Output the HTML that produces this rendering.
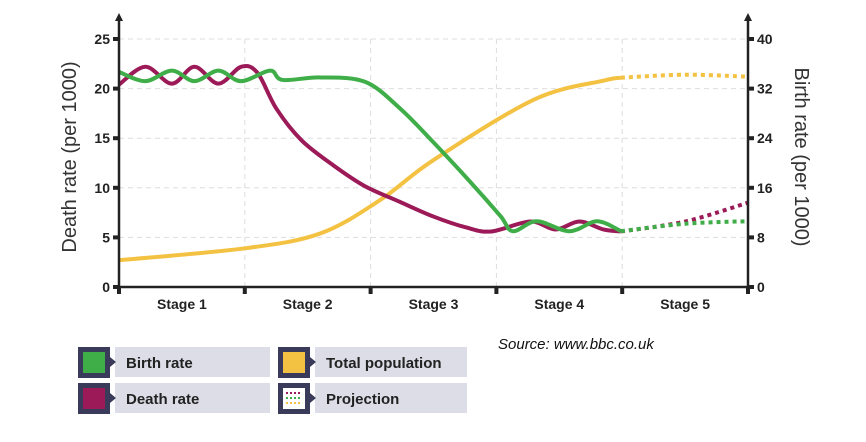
<!DOCTYPE html>
<html><head><meta charset="utf-8"><style>
body{margin:0;background:#fff;width:866px;height:442px;overflow:hidden;font-family:"Liberation Sans",Arial,sans-serif}
svg{display:block}
</style></head><body>
<svg id="chart" width="866" height="442" xmlns="http://www.w3.org/2000/svg">
<g id="grid"></g>
<g id="series"></g>
<g id="axes"></g>
<text transform="translate(76,157) rotate(-90)" text-anchor="middle" font-size="20" fill="#333">Death rate (per 1000)</text>
<text transform="translate(795,157) rotate(90)" text-anchor="middle" font-size="20" fill="#333">Birth rate (per 1000)</text>
<text x="498" y="349" font-size="15" font-style="italic" fill="#111">Source: www.bbc.co.uk</text>
<g>
 <g>
  <rect x="115" y="347" width="155" height="30" fill="#dcdde6"/>
  <rect x="78" y="347" width="32" height="31" fill="#3a3a5a"/>
  <rect x="83" y="352" width="22" height="21" fill="#3fae49"/>
  <polygon points="110,357 116,362 110,367" fill="#3a3a5a"/>
  <text x="126" y="368" font-size="15" font-weight="bold" fill="#222">Birth rate</text>
 </g>
 <g>
  <rect x="115" y="383" width="155" height="30" fill="#dcdde6"/>
  <rect x="78" y="383" width="32" height="31" fill="#3a3a5a"/>
  <rect x="83" y="388" width="22" height="21" fill="#9b1a57"/>
  <polygon points="110,393 116,398 110,403" fill="#3a3a5a"/>
  <text x="126" y="404" font-size="15" font-weight="bold" fill="#222">Death rate</text>
 </g>
 <g>
  <rect x="315" y="347" width="152" height="30" fill="#dcdde6"/>
  <rect x="278" y="347" width="32" height="31" fill="#3a3a5a"/>
  <rect x="283" y="352" width="22" height="21" fill="#f4c242"/>
  <polygon points="310,357 316,362 310,367" fill="#3a3a5a"/>
  <text x="326" y="368" font-size="15" font-weight="bold" fill="#222">Total population</text>
 </g>
 <g>
  <rect x="315" y="383" width="152" height="30" fill="#dcdde6"/>
  <rect x="278" y="383" width="32" height="31" fill="#3a3a5a"/>
  <rect x="283" y="388" width="22" height="21" fill="#fff"/>
  <line x1="286" y1="393" x2="302" y2="393" stroke="#9b1a57" stroke-width="2" stroke-dasharray="2,2"/>
  <line x1="286" y1="398" x2="302" y2="398" stroke="#3fae49" stroke-width="2" stroke-dasharray="2,2"/>
  <line x1="286" y1="403" x2="302" y2="403" stroke="#f4c242" stroke-width="2" stroke-dasharray="2,2"/>
  <polygon points="310,393 316,398 310,403" fill="#3a3a5a"/>
  <text x="326" y="404" font-size="15" font-weight="bold" fill="#222">Projection</text>
 </g>
</g>
</svg>
<script>
// Data (x in stage units 0..5)
const stageLabels = ["Stage 1","Stage 2","Stage 3","Stage 4","Stage 5"];
const leftTicks = [0,5,10,15,20,25];
const rightTicks = [0,8,16,24,32,40];
const deathX = [0,0.21,0.42,0.6,0.79,0.97,1.1,1.25,1.45,1.7,1.95,2.23,2.5,2.76,2.96,3.27,3.47,3.66,3.85,3.99];
const deathY = [20.4,22.2,20.5,22.2,20.5,22.2,21.6,18.0,14.8,12.3,10.2,8.6,7.1,6.0,5.6,6.6,5.8,6.6,5.8,5.6];
const deathProjX = [3.99,4.5,5.0];
const deathProjY = [5.6,6.6,8.5];
const birthX = [0,0.21,0.42,0.6,0.79,0.97,1.2,1.3,1.6,1.955,2.234,2.496,2.79,3.03,3.13,3.32,3.58,3.8,3.99];
const birthY = [34.7,33.2,34.9,33.2,34.9,33.2,34.9,33.4,33.8,33.1,28.8,23.4,17.0,11.5,9.0,10.6,9.0,10.6,9.0];
const birthProjX = [3.99,4.5,4.98];
const birthProjY = [9.0,10.2,10.6];
const popX = [0,1.0,1.6,2.08,2.5,3.3,3.85,3.99];
const popY = [2.7,3.9,5.4,8.8,12.8,18.9,20.8,21.1];
const popProjX = [3.99,4.5,5.0];
const popProjY = [21.1,21.4,21.2];

const X0=119,X1=748,Y0=287,Y1=39;
const sx=s=>X0+s*(X1-X0)/5;
const syL=v=>Y0-v*(Y0-Y1)/25;
const syR=v=>Y0-v*(Y0-Y1)/40;
const NS="http://www.w3.org/2000/svg";
function mk(tag,attrs,parent){const e=document.createElementNS(NS,tag);for(const k in attrs)e.setAttribute(k,attrs[k]);parent.appendChild(e);return e;}
function path(xs,ys,sy){
  const p=xs.map((x,i)=>[sx(x),sy(ys[i])]);
  let d="M"+p[0][0]+","+p[0][1];
  for(let i=0;i<p.length-1;i++){
    const p0=p[i-1]||p[i],p1=p[i],p2=p[i+1],p3=p[i+2]||p2;
    const c1=[p1[0]+(p2[0]-p0[0])/6,p1[1]+(p2[1]-p0[1])/6];
    const c2=[p2[0]-(p3[0]-p1[0])/6,p2[1]-(p3[1]-p1[1])/6];
    d+=" C"+c1+" "+c2+" "+p2;
  }
  return d;
}
const grid=document.getElementById('grid'),axes=document.getElementById('axes'),ser=document.getElementById('series');
leftTicks.forEach(v=>{
  if(v>0){const g=mk('line',{x1:X0,x2:X1,y1:syL(v),y2:syL(v),stroke:"#ddd","stroke-dasharray":"5,4"},grid);
  }
  const t=mk('rect',{x:X0-6,y:syL(v)-2,width:6,height:4,fill:"#222"},axes);
  
  const l=mk('text',{x:X0-9,y:syL(v)+5,"text-anchor":"end","font-size":14,"font-weight":"bold",fill:"#222"},axes);
  l.textContent=v;
});
rightTicks.forEach(v=>{
  const t=mk('rect',{x:X1,y:syR(v)-2,width:6,height:4,fill:"#222"},axes);
  
  const l=mk('text',{x:X1+9,y:syR(v)+5,"font-size":14,"font-weight":"bold",fill:"#222"},axes);
  l.textContent=v;
});
for(let i=0;i<=5;i++){
  if(i>0&&i<5){const g=mk('line',{x1:sx(i),x2:sx(i),y1:Y1,y2:Y0,stroke:"#ddd","stroke-dasharray":"5,4"},grid);
  }
  const t=mk('rect',{x:sx(i)-2,y:Y0,width:4,height:7,fill:"#222"},axes);
  
}
stageLabels.forEach((s,i)=>{
  const l=mk('text',{x:sx(i+0.5),y:Y0+22,"text-anchor":"middle","font-size":14,"font-weight":"bold",fill:"#222"},axes);
  l.textContent=s;
});
let a;
a=mk('line',{x1:X0,x2:X0,y1:Y0+4,y2:20,stroke:"#222","stroke-width":2.5},axes);
a=mk('line',{x1:X1,x2:X1,y1:Y0+4,y2:20,stroke:"#222","stroke-width":2.5},axes);
a=mk('line',{x1:X0,x2:X1,y1:Y0,y2:Y0,stroke:"#222","stroke-width":2.5},axes);
a=mk('polygon',{points:`${X0-4},21 ${X0+4},21 ${X0},13`,fill:"#222"},axes);
a=mk('polygon',{points:`${X1-4},21 ${X1+4},21 ${X1},13`,fill:"#222"},axes);

let s;
s=mk('path',{d:path(popX,popY,syL),fill:"none",stroke:"#f4c242","stroke-width":4},ser);
s=mk('path',{d:path(popProjX,popProjY,syL),fill:"none",stroke:"#f4c242","stroke-width":4,"stroke-dasharray":"4,4"},ser);
s=mk('path',{d:path(deathX,deathY,syL),fill:"none",stroke:"#9b1a57","stroke-width":4},ser);
s=mk('path',{d:path(birthX,birthY,syR),fill:"none",stroke:"#3fae49","stroke-width":4},ser);
s=mk('path',{d:path(deathProjX,deathProjY,syL),fill:"none",stroke:"#9b1a57","stroke-width":4,"stroke-dasharray":"4,4"},ser);
s=mk('path',{d:path(birthProjX,birthProjY,syR),fill:"none",stroke:"#3fae49","stroke-width":4,"stroke-dasharray":"4,4"},ser);
</script>
</body></html>
